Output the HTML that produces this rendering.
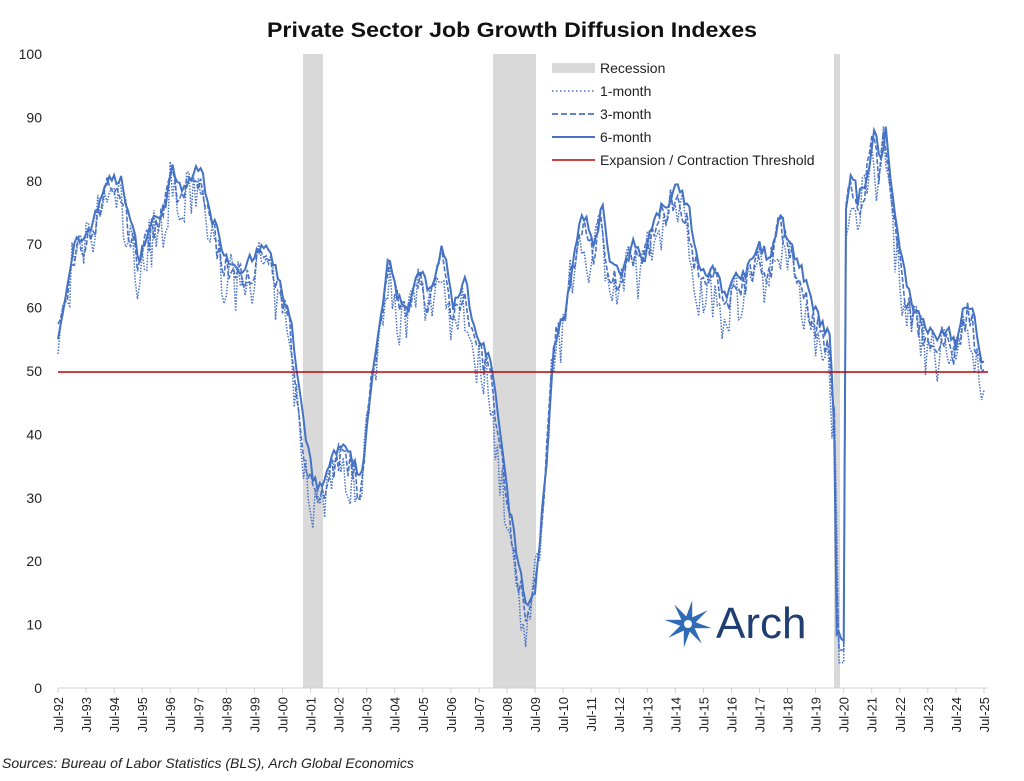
<!DOCTYPE html>
<html><head><meta charset="utf-8"><style>
body{margin:0;background:#fff;width:1024px;height:776px;overflow:hidden}
svg text{font-family:"Liberation Sans",sans-serif}
</style></head><body>
<svg id="s" width="1024" height="776" xmlns="http://www.w3.org/2000/svg">
<text x="512" y="37" text-anchor="middle" font-size="21" font-weight="bold" fill="#111" textLength="490" lengthAdjust="spacingAndGlyphs">Private Sector Job Growth Diffusion Indexes</text>
<g id="rec" fill="#d9d9d9">
<rect x="303" y="54" width="20" height="634"/>
<rect x="493" y="54" width="43" height="634"/>
<rect x="834" y="54" width="6" height="634"/>
</g>
<g id="yl" font-size="14" fill="#222" text-anchor="end"></g>
<line x1="58" y1="688" x2="988" y2="688" stroke="#d0d0d0" stroke-width="1"/>
<g id="xl" font-size="13" fill="#222"></g>
<g id="series"></g>
<line x1="58" y1="372" x2="988" y2="372" stroke="#c00000" stroke-width="1.5"/>
<g font-size="14" fill="#222">
<rect x="552" y="63" width="43" height="10" fill="#d9d9d9"/>
<text x="600" y="73">Recession</text>
<line x1="552" y1="91" x2="595" y2="91" stroke="#4a72c4" stroke-width="1.5" stroke-dasharray="1.5,2.5"/>
<text x="600" y="96">1-month</text>
<line x1="552" y1="114" x2="595" y2="114" stroke="#4a72c4" stroke-width="1.8" stroke-dasharray="6,3"/>
<text x="600" y="119">3-month</text>
<line x1="552" y1="137" x2="595" y2="137" stroke="#4a72c4" stroke-width="2"/>
<text x="600" y="142">6-month</text>
<line x1="552" y1="160" x2="595" y2="160" stroke="#c00000" stroke-width="1.5"/>
<text x="600" y="165">Expansion / Contraction Threshold</text>
</g>
<g transform="translate(688,624)" fill="#2f6cb5">
<g id="star"></g>
</g>
<text x="716" y="638" font-family="Liberation Serif,serif" font-size="44" fill="#1f3f73">Arch</text>
<text x="2" y="768" font-size="14" font-style="italic" fill="#222">Sources: Bureau of Labor Statistics (BLS), Arch Global Economics</text>
</svg>
<script>
var NS="http://www.w3.org/2000/svg";
function el(t,a,p,txt){var e=document.createElementNS(NS,t);for(var k in a)e.setAttribute(k,a[k]);if(txt!=null)e.textContent=txt;p.appendChild(e);return e;}
var Y=function(v){return 688-v*6.34};var X=function(y){return 58+(y-1992.5)*28.06};
var yl=document.getElementById('yl');
for(var v=0;v<=100;v+=10)el('text',{x:42,y:Y(v)+5},yl,v);
var xl=document.getElementById('xl');
for(var y=1992;y<=2025;y++){var x=X(y+0.5);el('line',{x1:x,y1:688,x2:x,y2:693,stroke:'#d0d0d0'},xl);
el('text',{transform:'translate('+(x+5)+',697) rotate(-90)','text-anchor':'end'},xl,'Jul-'+String(y%100).padStart(2,'0'));}
var K=[[1992.5,56],[1992.8,62],[1993.1,70],[1993.4,71],[1993.8,74],[1994.2,80],[1994.8,80],[1995.0,75],[1995.4,68],[1995.8,73],[1996.3,76],[1996.6,82],[1996.9,78],[1997.3,81],[1997.6,82],[1998.0,74],[1998.5,68],[1999.0,66],[1999.5,68],[1999.9,70],[2000.4,64],[2000.8,58],[2001.0,50],[2001.3,40],[2001.6,33],[2001.9,31],[2002.2,36],[2002.6,38],[2003.0,36],[2003.3,33],[2003.6,45],[2003.9,55],[2004.3,69],[2004.6,62],[2005.0,60],[2005.4,66],[2005.8,62],[2006.2,70],[2006.6,60],[2007.0,65],[2007.4,55],[2007.9,52],[2008.2,42],[2008.6,28],[2008.9,20],[2009.2,13],[2009.5,15],[2009.9,35],[2010.2,55],[2010.6,60],[2010.9,68],[2011.2,75],[2011.6,70],[2011.9,76],[2012.2,67],[2012.6,65],[2013.0,70],[2013.4,68],[2013.8,75],[2014.3,77],[2014.6,80],[2015.0,75],[2015.4,65],[2015.9,66],[2016.3,62],[2016.7,65],[2017.1,66],[2017.5,70],[2017.9,67],[2018.2,75],[2018.6,70],[2019.0,66],[2019.4,60],[2019.8,57],[2020.0,55],[2020.15,45],[2020.25,8],[2020.5,8],[2020.58,75],[2020.8,82],[2021.0,77],[2021.3,80],[2021.6,88],[2021.8,83],[2022.0,88],[2022.3,75],[2022.7,65],[2023.0,60],[2023.4,57],[2023.8,55],[2024.2,57],[2024.5,54],[2024.8,60],[2025.1,60],[2025.3,53],[2025.5,51]];
function f(t){for(var i=0;i<K.length-1;i++){if(t<=K[i+1][0]){var a=K[i],b=K[i+1];return a[1]+(b[1]-a[1])*(t-a[0])/(b[0]-a[0]);}}return K[K.length-1][1];}
var seed=7;function r(){seed=(seed*16807)%2147483647;return seed/2147483647-0.5;}
var s6='',s3='',s1='';
for(var m=0;m<=396;m++){var t=1992.5+m/12;var v=f(t);
var v6=v+r()*2;var v3=f(t+0.04)-1.5+r()*5;var v1=f(t+0.08)-3+r()*9;
if(t>2020.1&&t<2020.55){v3=f(t-0.03)-2;v1=f(t-0.06)-4;}
v3=Math.max(3,Math.min(95,v3));v1=Math.max(3,Math.min(95,v1));
var x=X(t).toFixed(1);s6+=(m?'L':'M')+x+','+Y(v6).toFixed(1);s3+=(m?'L':'M')+x+','+Y(v3).toFixed(1);s1+=(m?'L':'M')+x+','+Y(v1).toFixed(1);}
var g=document.getElementById('series');
el('path',{d:s1,fill:'none',stroke:'#4a72c4','stroke-width':1.5,'stroke-dasharray':'1.5,1.5'},g);
el('path',{d:s3,fill:'none',stroke:'#4a72c4','stroke-width':1.6,'stroke-dasharray':'5,2'},g);
el('path',{d:s6,fill:'none',stroke:'#4472c4','stroke-width':2},g);
var st=document.getElementById('star');
for(var i=0;i<8;i++){var a=i*45+10;el('path',{d:'M2,-4 L24,0 L2,4 Z',transform:'rotate('+a+')'},st);}
el('circle',{r:4,fill:'#fff'},st);
</script>
</body></html>
